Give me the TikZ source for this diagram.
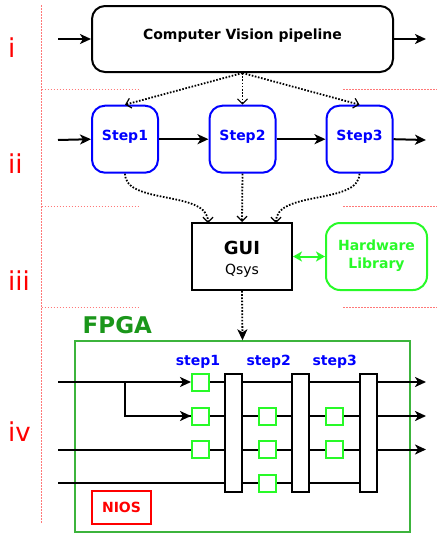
\documentclass[tikz,border=0pt]{standalone}
\usepackage{fontspec}
\setmainfont{DejaVu Sans}
\usetikzlibrary{arrows.meta}
\definecolor{myblue}{RGB}{0,0,255}
\definecolor{mygreen}{RGB}{40,250,40}
\definecolor{fpgatext}{RGB}{26,150,26}
\definecolor{fpgaline}{RGB}{60,180,60}
\definecolor{myred}{RGB}{255,0,0}
\definecolor{guide}{RGB}{255,120,120}
\tikzset{
  lw/.style={line width=2pt},
  arr/.style={lw,-{Stealth[length=11pt,width=10pt,inset=3pt]}},
  dotarr/.style={line width=1.8pt,dash pattern=on 1.6pt off 1.6pt,-{Straight Barb[length=5pt,width=10pt,line width=1.2pt]}},
  dotarrf/.style={line width=1.8pt,dash pattern=on 1.6pt off 1.6pt,-{Stealth[length=11pt,width=10pt,inset=3pt]}},
  guideline/.style={guide,line width=1.3pt,dash pattern=on 1.5pt off 1.5pt},
  bigbox/.style={draw,lw,rounded corners=13pt,minimum width=301pt,minimum height=66pt,inner sep=0pt},
  stepbox/.style={draw=myblue,lw,rounded corners=13pt,minimum width=66pt,minimum height=67pt,inner sep=0pt},
  txt/.style={anchor=base,inner sep=0pt,font=\fontsize{14}{16}\selectfont\bfseries},
  sq/.style={draw=mygreen,fill=white,lw,minimum size=17pt,inner sep=0pt},
  bar/.style={draw,fill=white,lw,minimum width=17pt,minimum height=118pt,inner sep=0pt},
  num/.style={anchor=base west,inner sep=0pt,text=myred,font=\fontsize{26}{28}\selectfont},
}
\begin{document}
\begin{tikzpicture}[x=1pt,y=-1pt]
\useasboundingbox (0,0) rectangle (437,533);
% guide lines
\draw[guideline] (41.5,5) -- (41.5,523);
\foreach \yy in {89.5,206.5,307.5}{
  \draw[guideline] (41.5,\yy) -- (140,\yy);
  \draw[guideline] (343,\yy) -- (437,\yy);
}
\node[num] (ni) at (8,57) {i};
\node[num] (nii) at (8,173) {ii};
\node[num] (niii) at (8,290.5) {iii};
\node[num] (niv) at (8,441.5) {iv};

% level i
\node[bigbox] (cv) at (242.5,39) {};
\node[txt] (cvt) at (242.5,39.3) {Computer Vision pipeline};
\coordinate (cvin) at (58,39);
\coordinate (cvout) at (426,39);
\draw[arr] (cvin) -- (cv.west);
\draw[arr] (cv.east) -- (cvout);

% level ii
\node[stepbox] (s1) at (125,139.2) {};
\node[stepbox] (s2) at (242.5,139.2) {};
\node[stepbox] (s3) at (359.5,139.2) {};
\node[txt,text=myblue] (s1t) at (125,140.5) {Step1};
\node[txt,text=myblue] (s2t) at (242.5,140.5) {Step2};
\node[txt,text=myblue] (s3t) at (359.5,140.5) {Step3};
\coordinate (sin) at (58,140);
\coordinate (sout) at (426,140);
\draw[arr] (sin) -- (s1.west);
\draw[arr] (s1.east) -- (s2.west);
\draw[arr] (s2.east) -- (s3.west);
\draw[arr] (s3.east) -- (sout);
\draw[dotarr] (cv.south) -- (s1.north);
\draw[dotarr] (cv.south) -- (s2.north);
\draw[dotarr] (cv.south) -- (s3.north);

% level iii
\node[draw,lw,minimum width=100pt,minimum height=67pt,inner sep=0pt] (gui) at (242,256.5) {};
\node[txt,font=\fontsize{18}{20}\selectfont\bfseries] (guit) at (242,254) {GUI};
\node[anchor=base,inner sep=0pt,font=\fontsize{14}{16}\selectfont] (qsys) at (242,274) {Qsys};
\node[draw=mygreen,lw,rounded corners=14pt,minimum width=101pt,minimum height=67pt,inner sep=0pt] (hw) at (376.5,256.5) {};
\node[txt,text=mygreen] (hw1) at (376.5,250.7) {Hardware};
\node[txt,text=mygreen] (hw2) at (376.5,268) {Library};
\draw[mygreen,lw,{Stealth[length=9pt,width=10pt,inset=2.5pt]}-{Stealth[length=9pt,width=10pt,inset=2.5pt]}] (gui.east) -- (hw.west);
\draw[dotarr] (s1.south) .. controls (125,205) and (208,190) .. (208,223);
\draw[dotarr] (s2.south) -- (gui.north);
\draw[dotarr] (s3.south) .. controls (359,205) and (276,190) .. (276,223);

% level iv
\node[txt,text=fpgatext,font=\fontsize{23}{25}\selectfont\bfseries,anchor=base west] (fpgat) at (82.5,333) {FPGA};
\node[draw=fpgaline,line width=1.4pt,minimum width=335pt,minimum height=191pt,inner sep=0pt] (fpga) at (242.5,436.5) {};
\draw[dotarrf] (gui.south) -- (fpga.north);
\node[txt,text=myblue] (l1) at (198,365) {step1};
\node[txt,text=myblue] (l2) at (268.7,365) {step2};
\node[txt,text=myblue] (l3) at (334.7,365) {step3};

\coordinate (in1) at (58,382);
\coordinate (in3) at (58,449.5);
\coordinate (in4) at (58,483);
\coordinate (br) at (125,382);
\coordinate (out1) at (426,382);
\coordinate (out2) at (426,416);
\coordinate (out3) at (426,449.5);

\node[bar] (b1) at (233.5,433) {};
\node[bar] (b2) at (300.5,433) {};
\node[bar] (b3) at (368,433) {};

\node[sq] (q11) at (200.5,382) {};
\node[sq] (q12) at (200.5,416) {};
\node[sq] (q13) at (200.5,449.5) {};
\node[sq] (q22) at (267.5,416) {};
\node[sq] (q23) at (267.5,449.5) {};
\node[sq] (q24) at (267.5,483) {};
\node[sq] (q32) at (334.5,416) {};
\node[sq] (q33) at (334.5,449.5) {};

% lines (drawn, then boxes redrawn on top)
\draw[arr] (in1) -- (q11.west);
\draw[lw] (br) |- (q12.west);
\draw[arr] (br |- q12.west) -- (q12.west);
\draw[arr] (q11.east) -- (out1);
\draw[arr] (q12.east) -- (out2);
\draw[arr] (in3) -- (out3);
\draw[lw] (in4) -- (b3.west |- in4);

\node[bar] at (b1) {};
\node[bar] at (b2) {};
\node[bar] at (b3) {};
\node[sq] at (q11) {};
\node[sq] at (q12) {};
\node[sq] at (q13) {};
\node[sq] at (q22) {};
\node[sq] at (q23) {};
\node[sq] at (q24) {};
\node[sq] at (q32) {};
\node[sq] at (q33) {};

\node[draw=myred,lw,minimum width=59pt,minimum height=33pt,inner sep=0pt] (nios) at (121.5,507.5) {};
\node[txt,text=myred] (niost) at (121.5,512) {NIOS};
\end{tikzpicture}
\end{document}
